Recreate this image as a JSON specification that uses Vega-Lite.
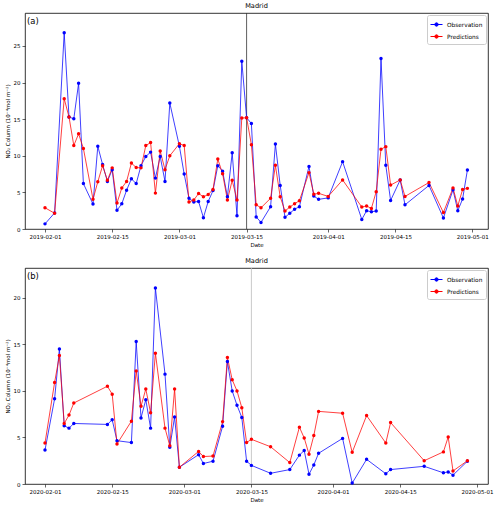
{
  "$schema": "https://vega.github.io/schema/vega-lite/v6.json",
  "padding": {"left": 4, "top": 2, "right": 8, "bottom": 2},
  "datasets": {
    "a": [
      {"date": "2019-02-01", "Observation": 0.7, "Predictions": 2.9},
      {"date": "2019-02-03", "Observation": 2.2, "Predictions": 2.15},
      {"date": "2019-02-05", "Observation": 26.8, "Predictions": 17.8},
      {"date": "2019-02-06", "Observation": 15.3, "Predictions": 15.3},
      {"date": "2019-02-07", "Observation": 15.05, "Predictions": 11.4},
      {"date": "2019-02-08", "Observation": 19.9, "Predictions": 13.0},
      {"date": "2019-02-09", "Observation": 6.2, "Predictions": 11.0},
      {"date": "2019-02-11", "Observation": 3.4, "Predictions": 4.05},
      {"date": "2019-02-12", "Observation": 11.3, "Predictions": 6.45},
      {"date": "2019-02-13", "Observation": 8.8, "Predictions": 8.65},
      {"date": "2019-02-14", "Observation": 6.5, "Predictions": 6.65},
      {"date": "2019-02-15", "Observation": 8.1, "Predictions": 8.35},
      {"date": "2019-02-16", "Observation": 2.55, "Predictions": 3.55},
      {"date": "2019-02-17", "Observation": 3.45, "Predictions": 5.6},
      {"date": "2019-02-18", "Observation": 5.3, "Predictions": 6.5},
      {"date": "2019-02-19", "Observation": 6.85, "Predictions": 9.0},
      {"date": "2019-02-20", "Observation": 6.2, "Predictions": 8.4},
      {"date": "2019-02-21", "Observation": 8.65, "Predictions": 8.35},
      {"date": "2019-02-22", "Observation": 9.9, "Predictions": 11.4},
      {"date": "2019-02-23", "Observation": 10.5, "Predictions": 11.8},
      {"date": "2019-02-24", "Observation": 6.95, "Predictions": 4.9},
      {"date": "2019-02-25", "Observation": 9.9, "Predictions": 10.65},
      {"date": "2019-02-26", "Observation": 6.5, "Predictions": 8.1},
      {"date": "2019-02-27", "Observation": 17.2, "Predictions": 10.0},
      {"date": "2019-03-01", "Observation": 11.3, "Predictions": 11.65},
      {"date": "2019-03-02", "Observation": 7.5, "Predictions": 11.4},
      {"date": "2019-03-03", "Observation": 4.2, "Predictions": 3.7},
      {"date": "2019-03-04", "Observation": 3.7, "Predictions": 3.95},
      {"date": "2019-03-05", "Observation": 3.75, "Predictions": 4.85},
      {"date": "2019-03-06", "Observation": 1.55, "Predictions": 4.4},
      {"date": "2019-03-07", "Observation": 3.75, "Predictions": 4.7},
      {"date": "2019-03-08", "Observation": 5.25, "Predictions": 5.4},
      {"date": "2019-03-09", "Observation": 8.65, "Predictions": 9.55},
      {"date": "2019-03-10", "Observation": 7.9, "Predictions": 7.55},
      {"date": "2019-03-11", "Observation": 4.4, "Predictions": 3.95},
      {"date": "2019-03-12", "Observation": 10.4, "Predictions": 6.65},
      {"date": "2019-03-13", "Observation": 1.8, "Predictions": 3.95},
      {"date": "2019-03-14", "Observation": 22.9, "Predictions": 15.15},
      {"date": "2019-03-15", "Observation": 15.2, "Predictions": 15.2},
      {"date": "2019-03-16", "Observation": 14.4, "Predictions": 11.5},
      {"date": "2019-03-17", "Observation": 1.65, "Predictions": 3.3},
      {"date": "2019-03-18", "Observation": 0.9, "Predictions": 2.9},
      {"date": "2019-03-20", "Observation": 3.05, "Predictions": 4.2},
      {"date": "2019-03-21", "Observation": 11.6, "Predictions": 8.7},
      {"date": "2019-03-22", "Observation": 5.95, "Predictions": 4.4},
      {"date": "2019-03-23", "Observation": 1.6, "Predictions": 2.45},
      {"date": "2019-03-24", "Observation": 2.15, "Predictions": 3.0},
      {"date": "2019-03-25", "Observation": 2.7, "Predictions": 3.45},
      {"date": "2019-03-26", "Observation": 3.05, "Predictions": 3.87},
      {"date": "2019-03-28", "Observation": 8.55, "Predictions": 7.7},
      {"date": "2019-03-29", "Observation": 4.5, "Predictions": 4.75},
      {"date": "2019-03-30", "Observation": 4.05, "Predictions": 4.87},
      {"date": "2019-04-01", "Observation": 4.25, "Predictions": 4.45},
      {"date": "2019-04-04", "Observation": 9.2, "Predictions": 6.7},
      {"date": "2019-04-08", "Observation": 1.3, "Predictions": 3.0},
      {"date": "2019-04-09", "Observation": 2.5, "Predictions": 3.15},
      {"date": "2019-04-10", "Observation": 2.35, "Predictions": 2.8},
      {"date": "2019-04-11", "Observation": 2.45, "Predictions": 5.1},
      {"date": "2019-04-12", "Observation": 23.3, "Predictions": 10.9},
      {"date": "2019-04-13", "Observation": 8.7, "Predictions": 11.25},
      {"date": "2019-04-14", "Observation": 3.9, "Predictions": 6.0},
      {"date": "2019-04-16", "Observation": 6.7, "Predictions": 6.7},
      {"date": "2019-04-17", "Observation": 3.3, "Predictions": 4.45},
      {"date": "2019-04-22", "Observation": 5.95, "Predictions": 6.35},
      {"date": "2019-04-25", "Observation": 1.5, "Predictions": 2.25},
      {"date": "2019-04-27", "Observation": 5.35, "Predictions": 5.6},
      {"date": "2019-04-28", "Observation": 2.5, "Predictions": 3.15},
      {"date": "2019-04-29", "Observation": 4.1, "Predictions": 5.4},
      {"date": "2019-04-30", "Observation": 8.05, "Predictions": 5.55}
    ],
    "b": [
      {"date": "2020-02-01", "Observation": 3.65, "Predictions": 4.4},
      {"date": "2020-02-03", "Observation": 9.15, "Predictions": 10.9},
      {"date": "2020-02-04", "Observation": 14.5, "Predictions": 13.8},
      {"date": "2020-02-05", "Observation": 6.25, "Predictions": 6.5},
      {"date": "2020-02-06", "Observation": 6.0, "Predictions": 7.4},
      {"date": "2020-02-07", "Observation": 6.5, "Predictions": 8.7},
      {"date": "2020-02-14", "Observation": 6.4, "Predictions": 10.5},
      {"date": "2020-02-15", "Observation": 6.9, "Predictions": 9.65},
      {"date": "2020-02-16", "Observation": 4.65, "Predictions": 4.3},
      {"date": "2020-02-19", "Observation": 4.45, "Predictions": 6.75},
      {"date": "2020-02-20", "Observation": 15.3, "Predictions": 12.15},
      {"date": "2020-02-21", "Observation": 7.1, "Predictions": 8.35},
      {"date": "2020-02-22", "Observation": 9.05, "Predictions": 10.2},
      {"date": "2020-02-23", "Observation": 6.0, "Predictions": 7.65},
      {"date": "2020-02-24", "Observation": 21.05, "Predictions": 14.05},
      {"date": "2020-02-26", "Observation": 11.8, "Predictions": 6.0},
      {"date": "2020-02-27", "Observation": 3.95, "Predictions": 4.1},
      {"date": "2020-02-28", "Observation": 7.2, "Predictions": 10.2},
      {"date": "2020-02-29", "Observation": 1.8, "Predictions": 1.8},
      {"date": "2020-03-04", "Observation": 3.15, "Predictions": 3.5},
      {"date": "2020-03-05", "Observation": 2.2, "Predictions": 2.95},
      {"date": "2020-03-07", "Observation": 2.45, "Predictions": 3.0},
      {"date": "2020-03-09", "Observation": 6.2, "Predictions": 6.7},
      {"date": "2020-03-10", "Observation": 13.15, "Predictions": 13.6},
      {"date": "2020-03-11", "Observation": 10.0, "Predictions": 11.2},
      {"date": "2020-03-12", "Observation": 8.45, "Predictions": 10.0},
      {"date": "2020-03-13", "Observation": 7.15, "Predictions": 8.2},
      {"date": "2020-03-14", "Observation": 2.45, "Predictions": 4.45},
      {"date": "2020-03-15", "Observation": 2.0, "Predictions": 4.8},
      {"date": "2020-03-19", "Observation": 1.15, "Predictions": 4.0},
      {"date": "2020-03-23", "Observation": 1.55, "Predictions": 2.3},
      {"date": "2020-03-25", "Observation": 3.1, "Predictions": 6.1},
      {"date": "2020-03-26", "Observation": 3.6, "Predictions": 4.95},
      {"date": "2020-03-27", "Observation": 1.05, "Predictions": 3.2},
      {"date": "2020-03-28", "Observation": 2.05, "Predictions": 5.2},
      {"date": "2020-03-29", "Observation": 3.3, "Predictions": 7.8},
      {"date": "2020-04-03", "Observation": 4.9, "Predictions": 7.6},
      {"date": "2020-04-05", "Observation": 0.1, "Predictions": 3.4},
      {"date": "2020-04-08", "Observation": 2.65, "Predictions": 7.35},
      {"date": "2020-04-12", "Observation": 1.1, "Predictions": 4.4},
      {"date": "2020-04-13", "Observation": 1.55, "Predictions": 6.6},
      {"date": "2020-04-20", "Observation": 1.9, "Predictions": 2.5},
      {"date": "2020-04-24", "Observation": 1.2, "Predictions": 3.45},
      {"date": "2020-04-25", "Observation": 1.3, "Predictions": 5.05},
      {"date": "2020-04-26", "Observation": 0.95, "Predictions": 1.4},
      {"date": "2020-04-29", "Observation": 2.45, "Predictions": 2.5}
    ]
  },
  "config": {
    "font": "DejaVu Sans",
    "view": {"stroke": "#000", "strokeWidth": 0.8},
    "axis": {
      "grid": false, "domain": false, "tickColor": "#000", "tickSize": 3, "tickWidth": 0.6,
      "labelFontSize": 5.5, "labelColor": "#000", "labelPadding": 2,
      "titleFontSize": 5.5, "titleFontWeight": "normal", "titleColor": "#000", "titlePadding": 3
    },
    "title": {"fontSize": 6.6, "fontWeight": "normal", "offset": 3, "color": "#000"},
    "concat": {"spacing": 8},
    "legend": {
      "title": null, "orient": "top-right", "offset": 2, "fillColor": "white", "strokeColor": "#cccccc",
      "padding": 3, "cornerRadius": 2, "labelFontSize": 5.8, "labelColor": "#000", "rowPadding": 1,
      "symbolType": "M-1,0L1,0M-0.28,0a0.28,0.28 0 1,0 0.56,0a0.28,0.28 0 1,0 -0.56,0",
      "symbolSize": 144, "symbolStrokeWidth": 1, "symbolOpacity": 1
    }
  },
  "resolve": {"legend": {"color": "independent"}},
  "vconcat": [
    {
      "title": "Madrid",
      "width": 463, "height": 216,
      "layer": [
        {
          "data": {"values": [{}]},
          "mark": {"type": "rule", "color": "#333333", "strokeWidth": 0.8},
          "encoding": {"x": {"datum": {"year": 2019, "month": 3, "date": 15, "utc": true}, "type": "temporal"}}
        },
        {
          "data": {"name": "a"},
          "transform": [{"fold": ["Observation", "Predictions"], "as": ["series", "value"]}],
          "mark": {"type": "line", "strokeWidth": 1, "opacity": 0.75},
          "encoding": {
            "x": {"field": "date", "type": "temporal",
              "scale": {"type": "utc", "domain": [{"year": 2019, "month": 1, "date": 27, "hours": 20, "utc": true}, {"year": 2019, "month": 5, "date": 4, "hours": 7, "utc": true}]},
              "axis": {"title": "Date", "labelExpr": "utcFormat(datum.value, '%Y-%m-%d')",
                "values": [{"year": 2019, "month": 2, "date": 1, "utc": true}, {"year": 2019, "month": 2, "date": 15, "utc": true}, {"year": 2019, "month": 3, "date": 1, "utc": true}, {"year": 2019, "month": 3, "date": 15, "utc": true}, {"year": 2019, "month": 4, "date": 1, "utc": true}, {"year": 2019, "month": 4, "date": 15, "utc": true}, {"year": 2019, "month": 5, "date": 1, "utc": true}]}},
            "y": {"field": "value", "type": "quantitative",
              "scale": {"domain": [0, 29.5], "nice": false},
              "axis": {"title": "NO₂ Column (10⁻⁴mol m⁻²)", "values": [0, 5, 10, 15, 20, 25]}},
            "color": {"field": "series", "type": "nominal",
              "scale": {"domain": ["Observation", "Predictions"], "range": ["#0000ff", "#ff0000"]},
              "legend": {"encode": {"symbols": {"update": {"fill": {"scale": "color", "field": "value"}}}}}}
          }
        },
        {
          "data": {"name": "a"},
          "transform": [{"fold": ["Observation", "Predictions"], "as": ["series", "value"]}],
          "mark": {"type": "point", "filled": true, "size": 12, "opacity": 1},
          "encoding": {
            "x": {"field": "date", "type": "temporal"},
            "y": {"field": "value", "type": "quantitative"},
            "color": {"field": "series", "type": "nominal"}
          }
        },
        {
          "data": {"values": [{}]},
          "mark": {"type": "text", "text": "(a)", "fontSize": 8.4, "align": "left", "baseline": "middle", "color": "#000"},
          "encoding": {
            "x": {"datum": {"year": 2019, "month": 1, "date": 28, "hours": 6, "utc": true}, "type": "temporal"},
            "y": {"datum": 28.4, "type": "quantitative"}
          }
        }
      ]
    },
    {
      "title": "Madrid",
      "width": 463, "height": 216,
      "layer": [
        {
          "data": {"values": [{}]},
          "mark": {"type": "rule", "color": "#bbbbbb", "strokeWidth": 0.8},
          "encoding": {"x": {"datum": {"year": 2020, "month": 3, "date": 15, "utc": true}, "type": "temporal"}}
        },
        {
          "data": {"name": "b"},
          "transform": [{"fold": ["Observation", "Predictions"], "as": ["series", "value"]}],
          "mark": {"type": "line", "strokeWidth": 1, "opacity": 0.75},
          "encoding": {
            "x": {"field": "date", "type": "temporal",
              "scale": {"type": "utc", "domain": [{"year": 2020, "month": 1, "date": 27, "hours": 20, "utc": true}, {"year": 2020, "month": 5, "date": 3, "hours": 7, "utc": true}]},
              "axis": {"title": "Date", "labelExpr": "utcFormat(datum.value, '%Y-%m-%d')",
                "values": [{"year": 2020, "month": 2, "date": 1, "utc": true}, {"year": 2020, "month": 2, "date": 15, "utc": true}, {"year": 2020, "month": 3, "date": 1, "utc": true}, {"year": 2020, "month": 3, "date": 15, "utc": true}, {"year": 2020, "month": 4, "date": 1, "utc": true}, {"year": 2020, "month": 4, "date": 15, "utc": true}, {"year": 2020, "month": 5, "date": 1, "utc": true}]}},
            "y": {"field": "value", "type": "quantitative",
              "scale": {"domain": [0, 23.2], "nice": false},
              "axis": {"title": "NO₂ Column (10⁻⁴mol m⁻²)", "values": [0, 5, 10, 15, 20]}},
            "color": {"field": "series", "type": "nominal",
              "scale": {"domain": ["Observation", "Predictions"], "range": ["#0000ff", "#ff0000"]},
              "legend": {"encode": {"symbols": {"update": {"fill": {"scale": "color", "field": "value"}}}}}}
          }
        },
        {
          "data": {"name": "b"},
          "transform": [{"fold": ["Observation", "Predictions"], "as": ["series", "value"]}],
          "mark": {"type": "point", "filled": true, "size": 12, "opacity": 1},
          "encoding": {
            "x": {"field": "date", "type": "temporal"},
            "y": {"field": "value", "type": "quantitative"},
            "color": {"field": "series", "type": "nominal"}
          }
        },
        {
          "data": {"values": [{}]},
          "mark": {"type": "text", "text": "(b)", "fontSize": 8.4, "align": "left", "baseline": "middle", "color": "#000"},
          "encoding": {
            "x": {"datum": {"year": 2020, "month": 1, "date": 28, "hours": 6, "utc": true}, "type": "temporal"},
            "y": {"datum": 22.35, "type": "quantitative"}
          }
        }
      ]
    }
  ]
}
